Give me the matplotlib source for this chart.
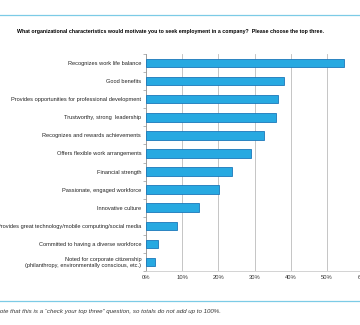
import numpy as np
import matplotlib.pyplot as plt

# Motivating characteristics, share of respondents (%)
caracteristicas = [
    'Recognizes work life balance',
    'Good benefits',
    'Provides opportunities for professional development',
    'Trustworthy, strong  leadership',
    'Recognizes and rewards achievements',
    'Offers flexible work arrangements',
    'Financial strength',
    'Passionate, engaged workforce',
    'Innovative culture',
    'Provides great technology/mobile computing/social media',
    'Committed to having a diverse workforce',
    'Noted for corporate citizenship\n(philanthropy, environmentally conscious, etc.)',
]
percentuais = [54.6, 38.1, 36.5, 35.9, 32.7, 29.1, 23.8, 20.2, 14.6, 8.5, 3.3, 2.5]
ticks_x = [0, 10, 20, 30, 40, 50, 60]
rotulos_x = ['0%', '10%', '20%', '30%', '40%', '50%', '60%']

titulo = ('What organizational characteristics would motivate you to seek employment '
          'in a company?  Please choose the top three.')
nota = ('Please note that this is a \u201ccheck your top three\u201d question, '
        'so totals do not add up to 100%.')

plt.rcParams['font.family'] = 'Liberation Sans'

fig = plt.figure(figsize=(3.6, 3.25), dpi=100)
W, H = 360, 325

# axes placed in pixel terms; the right end runs past the figure edge
x0, x1 = 146, 363.2
y_top, y_bot = 54, 271
ax = fig.add_axes([x0 / W, 1 - y_bot / H, (x1 - x0) / W, (y_bot - y_top) / H])

pos = np.arange(len(caracteristicas))
ax.barh(pos, percentuais, height=0.47, color='#27A9E1', edgecolor='#1B78BA',
        linewidth=0.6, zorder=3)

ax.set_xlim(0, 60)
ax.set_ylim(len(caracteristicas) - 0.5, -0.5)
ax.set_xticks(ticks_x)
ax.set_xticklabels(rotulos_x, fontsize=4.2, color='#333333')
ax.set_yticks(pos)
ax.set_yticklabels(caracteristicas, fontsize=4.1, color='#222222')
ax.set_yticks(np.arange(len(caracteristicas) + 1) - 0.5, minor=True)

ax.tick_params(axis='y', which='major', length=0, pad=3.5)
ax.tick_params(axis='y', which='minor', length=2.5, width=0.5, color='#999999')
ax.tick_params(axis='x', length=0, pad=3)

ax.grid(axis='x', color='#BBBBBB', linewidth=0.6, zorder=0)
for s in ['top', 'right']:
    ax.spines[s].set_visible(False)
ax.spines['left'].set_color('#999999')
ax.spines['left'].set_linewidth(0.6)
ax.spines['bottom'].set_color('#CCCCCC')
ax.spines['bottom'].set_linewidth(0.6)

# header and footer rules
fig.add_artist(plt.Line2D([0, 1], [1 - 15 / H, 1 - 15 / H], color='#7CCBE6', linewidth=0.9))
fig.add_artist(plt.Line2D([0, 1], [1 - 301 / H, 1 - 301 / H], color='#7CCBE6', linewidth=0.9))

fig.text(17 / W, 1 - 32 / H, titulo, fontsize=3.8, fontweight='bold', va='center', ha='left')
fig.text(221 / W, 1 - 311 / H, nota, fontsize=4.4, style='italic', color='#333333',
         va='center', ha='right')

fig.savefig('out.png', dpi=100)
